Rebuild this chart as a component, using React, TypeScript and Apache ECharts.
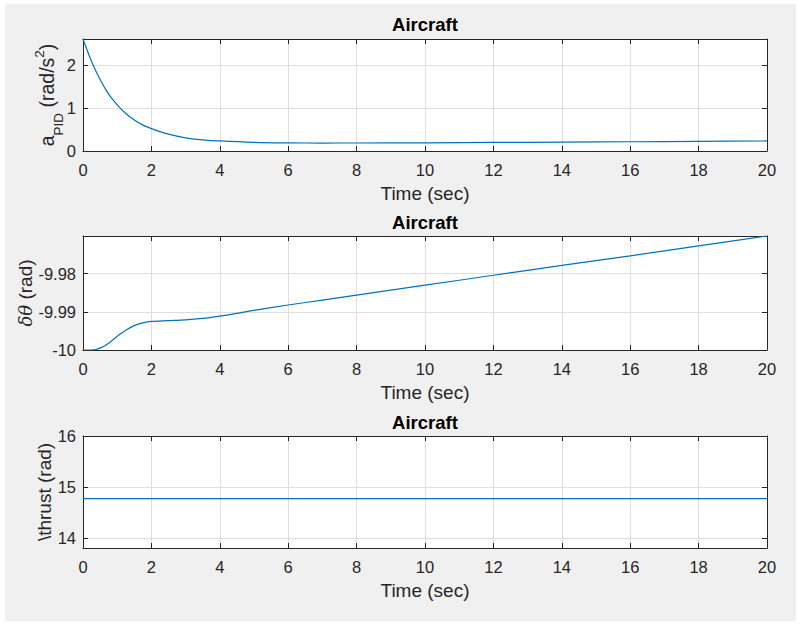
import React, { useEffect, useRef } from "react";
import * as echarts from "echarts";

// ---- data ----
const tA = [0, 0.25, 0.5, 0.75, 1, 1.25, 1.5, 1.75, 2, 2.5, 3, 3.5, 4, 5, 6, 7, 8, 10, 12, 14, 16, 18, 20];
const aPID = [2.6, 2.08, 1.66, 1.32, 1.07, 0.87, 0.72, 0.6, 0.52, 0.39, 0.305, 0.26, 0.233, 0.2, 0.188, 0.185, 0.186, 0.19, 0.198, 0.207, 0.215, 0.224, 0.233];

const tTheta = [0, 0.25, 0.5, 0.75, 1, 1.25, 1.5, 1.75, 2, 2.5, 3, 3.5, 4, 4.5, 5, 6, 7, 8, 10, 12, 14, 16, 18, 20];
const dTheta = [-10, -10, -9.9995, -9.9982, -9.9964, -9.9948, -9.9936, -9.9929, -9.9925, -9.9923, -9.9921, -9.9917, -9.9911, -9.9904, -9.9896, -9.9882, -9.9869, -9.9856, -9.983, -9.9804, -9.9778, -9.9753, -9.9727, -9.9701];

const tThrust = [0, 20];
const thrust = [14.77, 14.77];

const yTicks1 = [0, 1, 2];
const yTickLabels1 = ["0", "1", "2"];
const yTicks2 = [-10, -9.99, -9.98];
const yTickLabels2 = ["-10", "-9.99", "-9.98"];
const yTicks3 = [14, 15, 16];
const yTickLabels3 = ["14", "15", "16"];

const titleText = "Aircraft";
const xLabelText = "Time (sec)";

const FONT = "'Liberation Sans', Arial, Helvetica, sans-serif";
const AX = "#262626";
const GRIDC = "#dedede";
const LINEC = "#0072BD";

function fmt(ticks: number[], labels: string[]) {
  return (v: number) => {
    for (let i = 0; i < ticks.length; i++) {
      if (Math.abs(v - ticks[i]) < 1e-7) return labels[i];
    }
    return "";
  };
}

const grids = [
  { left: 83, top: 39, width: 684, height: 112 },
  { left: 83, top: 236, width: 684, height: 114 },
  { left: 83, top: 436, width: 684, height: 112 },
];

export default function App() {
  const ref = useRef<HTMLDivElement>(null);
  useEffect(() => {
    document.body.style.margin = "0";
    const chart = echarts.init(ref.current!, null, { renderer: "svg" });

    const axisLine = { show: true, onZero: false, lineStyle: { color: AX, width: 1 } };
    const axisTick = { show: true, inside: true, length: 5, lineStyle: { color: AX, width: 1 } };

    const xAxes: any[] = [];
    const yAxes: any[] = [];
    const yConf = [
      { min: 0, max: 2.6, interval: 1, f: fmt(yTicks1, yTickLabels1) },
      { min: -10, max: -9.9701, interval: 0.01, f: fmt(yTicks2, yTickLabels2) },
      { min: 13.8, max: 16, splitNumber: 2, f: fmt(yTicks3, yTickLabels3) },
    ];
    for (let i = 0; i < 3; i++) {
      xAxes.push({
        type: "value",
        gridIndex: i,
        position: "bottom",
        min: 0,
        max: 20,
        interval: 2,
        axisLine,
        axisTick,
        axisLabel: { color: AX, fontSize: 16.5, fontFamily: FONT, margin: 10 },
        splitLine: { show: true, lineStyle: { color: GRIDC, width: 1 } },
        name: xLabelText,
        nameLocation: "middle",
        nameGap: 33,
        nameTextStyle: { color: AX, fontSize: 19, fontFamily: FONT },
      });
      xAxes.push({
        type: "value",
        gridIndex: i,
        position: "top",
        min: 0,
        max: 20,
        interval: 2,
        axisLine,
        axisTick,
        axisLabel: { show: false },
        splitLine: { show: false },
      });
      const c = yConf[i];
      const base: any = { type: "value", gridIndex: i, min: c.min, max: c.max };
      if (c.interval !== undefined) base.interval = c.interval;
      if (c.splitNumber !== undefined) base.splitNumber = c.splitNumber;
      yAxes.push({
        ...base,
        position: "left",
        axisLine,
        axisTick,
        axisLabel: { color: AX, fontSize: 16.5, fontFamily: FONT, margin: 7, formatter: c.f, showMaxLabel: true, showMinLabel: true },
        splitLine: { show: true, lineStyle: { color: GRIDC, width: 1 } },
      });
      yAxes.push({
        ...base,
        position: "right",
        axisLine,
        axisTick,
        axisLabel: { show: false },
        splitLine: { show: false },
      });
    }

    const mk = (t: number[], v: number[]) => t.map((x, i) => [x, v[i]]);
    const seriesData = [mk(tA, aPID), mk(tTheta, dTheta), mk(tThrust, thrust)];

    const titleYs = [24, 222, 422];
    const graphic: any[] = [
      {
        type: "rect",
        z: -10,
        silent: true,
        shape: { x: 5, y: 4, width: 791, height: 617 },
        style: { fill: "#f0f0f0" },
      },
    ];
    titleYs.forEach((y) => {
      graphic.push({
        type: "text",
        x: 425,
        y,
        style: {
          text: titleText,
          fill: "#000",
          fontSize: 18.5,
          fontWeight: "bold",
          fontFamily: FONT,
          textAlign: "center",
          textVerticalAlign: "middle",
        },
      });
    });
    // y-axis labels
    graphic.push({
      type: "text",
      x: 47,
      y: 95,
      rotation: Math.PI / 2,
      style: {
        text: "{m|a}{s|PID}{m| (rad/s}{p|2}{m|)}",
        textAlign: "center",
        textVerticalAlign: "middle",
        rich: {
          m: { fontSize: 19.5, fontFamily: FONT, fill: AX, lineHeight: 36, verticalAlign: "middle" },
          s: { fontSize: 13.5, fontFamily: FONT, fill: AX, lineHeight: 14, verticalAlign: "bottom" },
          p: { fontSize: 13.5, fontFamily: FONT, fill: AX, lineHeight: 14, verticalAlign: "top", padding: [3, 0, 0, 0] },
        },
      },
    });
    graphic.push({
      type: "text",
      x: 25,
      y: 293,
      rotation: Math.PI / 2,
      style: {
        text: "{g|δθ}{m| (rad)}",
        textAlign: "center",
        textVerticalAlign: "middle",
        rich: {
          g: { fontSize: 18, fontFamily: "'DejaVu Serif', serif", fontStyle: "italic", fill: AX, lineHeight: 24, verticalAlign: "middle" },
          m: { fontSize: 19, fontFamily: FONT, fill: AX, lineHeight: 24, verticalAlign: "middle" },
        },
      },
    });
    graphic.push({
      type: "text",
      x: 44,
      y: 492,
      rotation: Math.PI / 2,
      style: {
        text: "\\thrust (rad)",
        fill: AX,
        fontSize: 19,
        fontFamily: FONT,
        textAlign: "center",
        textVerticalAlign: "middle",
      },
    });

    chart.setOption({
      animation: false,
      backgroundColor: "#ffffff",
      grid: grids.map((g) => ({ ...g, show: true, backgroundColor: "#ffffff", borderWidth: 0, containLabel: false })),
      xAxis: xAxes,
      yAxis: yAxes,
      graphic,
      series: seriesData.map((d, i) => ({
        type: "line",
        xAxisIndex: 2 * i,
        yAxisIndex: 2 * i,
        data: d,
        showSymbol: false,
        smooth: 0.3,
        lineStyle: { color: LINEC, width: 1.2 },
        itemStyle: { color: LINEC },
        clip: true,
      })),
    });
    return () => chart.dispose();
  }, []);
  return <div ref={ref} style={{ width: 799, height: 624 }} />;
}
